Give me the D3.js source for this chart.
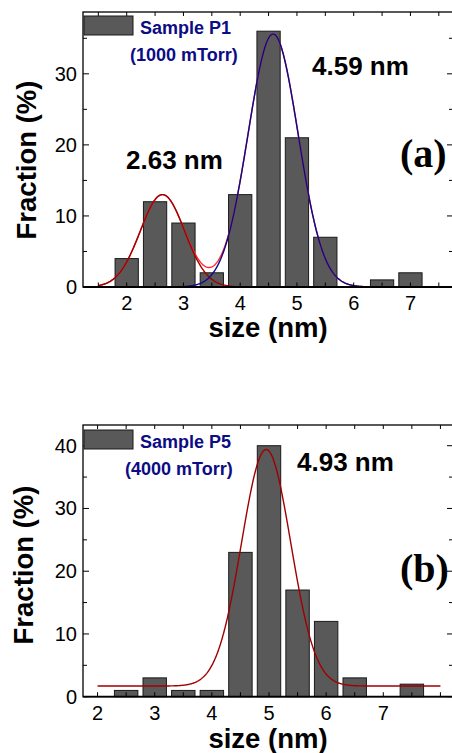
<!DOCTYPE html>
<html><head><meta charset="utf-8">
<script src="https://cdn.jsdelivr.net/npm/d3@7"></script>
<style>body{margin:0;background:#fff}svg{display:block}</style>
</head><body>
<svg id="c" width="452" height="753"></svg>
<script>
// ---- data ----
const sizesA = [2, 2.5, 3, 3.5, 4, 4.5, 5, 5.5, 6, 6.5, 7];
const fracA  = [4, 12, 9, 2, 13, 36, 21, 7, 0, 1, 2];
const sizesB = [2.5, 3, 3.5, 4, 4.5, 5, 5.5, 6, 6.5, 7, 7.5];
const fracB  = [1, 3, 1, 1, 23, 40, 17, 12, 3, 0, 2];
const xTickLabels = [2, 3, 4, 5, 6, 7];
const yTicksA = [0, 10, 20, 30];
const yTicksB = [0, 10, 20, 30, 40];
// Gaussian fit parameters: [center, sigma, amplitude, offset]
const fitA1 = [2.63, 0.39, 13.0, 0];
const fitA2 = [4.58, 0.44, 35.6, 0];
const fitB  = [4.95, 0.43, 37.7, 1.7];
const peakLabelsA = ["2.63 nm", "4.59 nm"];
const peakLabelsB = ["4.93 nm"];

const svg = d3.select("#c");
const gauss = (p) => (x) => p[3] + p[2] * Math.exp(-((x - p[0]) ** 2) / (2 * p[1] * p[1]));

function panel(cfg) {
  const g = svg.append("g");
  const x = d3.scaleLinear().domain(cfg.xdom).range([cfg.left, cfg.right]);
  const y = d3.scaleLinear().domain(cfg.ydom).range([cfg.bottom, cfg.top]);
  const bw = 0.41;
  // bars
  g.selectAll("rect.bar").data(cfg.sizes.map((s, i) => ({s, v: cfg.vals[i]})).filter(d => d.v > 0))
    .enter().append("rect")
    .attr("x", d => x(d.s - bw / 2)).attr("width", d => x(d.s + bw / 2) - x(d.s - bw / 2))
    .attr("y", d => y(d.v)).attr("height", d => y(0) - y(d.v))
    .attr("fill", "#595959").attr("stroke", "#1a1a1a").attr("stroke-width", 1);

  // curves
  const line = d3.line().x(d => x(d[0])).y(d => y(d[1]));
  cfg.curves.forEach(c => {
    const pts = d3.range(c.from, c.to + 1e-9, 0.01).map(t => [t, c.f(t)]);
    g.append("path").attr("d", line(pts)).attr("fill", "none")
      .attr("stroke", c.color).attr("stroke-width", 1.4);
  });

  // frame
  g.append("rect").attr("x", cfg.left).attr("y", cfg.top)
    .attr("width", cfg.right - cfg.left).attr("height", cfg.bottom - cfg.top)
    .attr("fill", "none").attr("stroke", "#000").attr("stroke-width", 1.3);
  g.append("line").attr("x1", cfg.left).attr("x2", cfg.right).attr("y1", cfg.bottom).attr("y2", cfg.bottom)
    .attr("stroke", "#000").attr("stroke-width", 1.8);

  // ticks (inward)
  const xt = d3.range(Math.ceil(cfg.xdom[0] * 2) / 2, cfg.xdom[1] + 1e-9, 0.5);
  xt.forEach(t => {
    g.append("line").attr("x1", x(t)).attr("x2", x(t)).attr("y1", cfg.bottom).attr("y2", cfg.bottom - 4.5)
      .attr("stroke", "#000").attr("stroke-width", 1);
    g.append("line").attr("x1", x(t)).attr("x2", x(t)).attr("y1", cfg.top).attr("y2", cfg.top + 4)
      .attr("stroke", "#000").attr("stroke-width", 1);
  });
  const yt = d3.range(0, cfg.ydom[1], 5);
  yt.forEach(t => {
    const len = (t % 10 === 0) ? 6 : 4;
    g.append("line").attr("x1", cfg.left).attr("x2", cfg.left + len).attr("y1", y(t)).attr("y2", y(t))
      .attr("stroke", "#000").attr("stroke-width", 1);
    g.append("line").attr("x1", cfg.right).attr("x2", cfg.right - len).attr("y1", y(t)).attr("y2", y(t))
      .attr("stroke", "#000").attr("stroke-width", 1);
  });

  // tick labels
  const font = "'Liberation Sans', Arial, Helvetica, sans-serif";
  g.selectAll("text.xt").data(xTickLabels).enter().append("text")
    .attr("x", d => x(d)).attr("y", cfg.xtBase).attr("text-anchor", "middle")
    .attr("font-family", font).attr("font-size", 20).text(d => d);
  g.selectAll("text.yt").data(cfg.yticks).enter().append("text")
    .attr("x", 77).attr("y", d => y(d) + 7).attr("text-anchor", "end")
    .attr("font-family", font).attr("font-size", 20).text(d => d);

  // axis titles
  g.append("text").attr("x", 268).attr("y", cfg.xlBase).attr("text-anchor", "middle")
    .attr("font-family", font).attr("font-weight", "bold").attr("font-size", 27.5).text("size (nm)");
  g.append("text").attr("transform", `translate(${cfg.ylX},${cfg.ylY}) rotate(-90)`)
    .attr("text-anchor", "middle")
    .attr("font-family", font).attr("font-weight", "bold").attr("font-size", 27.5).text("Fraction (%)");

  // legend
  g.append("rect").attr("x", 84).attr("y", cfg.legY).attr("width", 49).attr("height", 19)
    .attr("fill", "#595959").attr("stroke", "#1a1a1a").attr("stroke-width", 1);
  g.append("text").attr("x", 140).attr("y", cfg.legY + 17.5).attr("fill", "#0c0c84")
    .attr("font-family", font).attr("font-weight", "bold").attr("font-size", 18).text(cfg.sample);
  g.append("text").attr("x", cfg.condX).attr("y", cfg.legY + 45).attr("fill", "#0c0c84")
    .attr("font-family", font).attr("font-weight", "bold").attr("font-size", 18).text(cfg.cond);

  // peak labels
  cfg.peaks.forEach(p => {
    g.append("text").attr("x", p.x).attr("y", p.y)
      .attr("font-family", font).attr("font-weight", "bold").attr("font-size", 26).text(p.t);
  });
  g.append("text").attr("x", 400).attr("y", cfg.tagY)
    .attr("font-family", "'Liberation Serif', 'Times New Roman', serif").attr("font-weight", "bold")
    .attr("font-size", 40).text(cfg.tag);
}

const fA1 = gauss(fitA1), fA2 = gauss(fitA2), fB = gauss(fitB);
panel({
  xdom: [1.23, 7.75], ydom: [0, 38.7], left: 83, right: 453, top: 12, bottom: 287,
  sizes: sizesA, vals: fracA, yticks: yTicksA,
  curves: [
    {from: 1.5, to: 7.5, f: t => fA1(t) + fA2(t), color: "#ff2a2a"},
    {from: 1.5, to: 7.5, f: fA1, color: "#a00000"},
    {from: 1.5, to: 7.5, f: fA2, color: "#0a0a8c"}
  ],
  xtBase: 310, xlBase: 337, ylX: 36, ylY: 160,
  legY: 16, sample: "Sample P1", cond: "(1000 mTorr)", condX: 130,
  peaks: [{t: peakLabelsA[0], x: 126, y: 169}, {t: peakLabelsA[1], x: 312, y: 75}],
  tag: "(a)", tagY: 167
});
panel({
  xdom: [1.745, 8.22], ydom: [0, 43.3], left: 83, right: 453, top: 425, bottom: 696.7,
  sizes: sizesB, vals: fracB, yticks: yTicksB,
  curves: [{from: 2, to: 8, f: fB, color: "#a00000"}],
  xtBase: 720, xlBase: 748, ylX: 33, ylY: 565,
  legY: 430, sample: "Sample P5", cond: "(4000 mTorr)", condX: 125,
  peaks: [{t: peakLabelsB[0], x: 297, y: 471}],
  tag: "(b)", tagY: 582
});
</script>
</body></html>
